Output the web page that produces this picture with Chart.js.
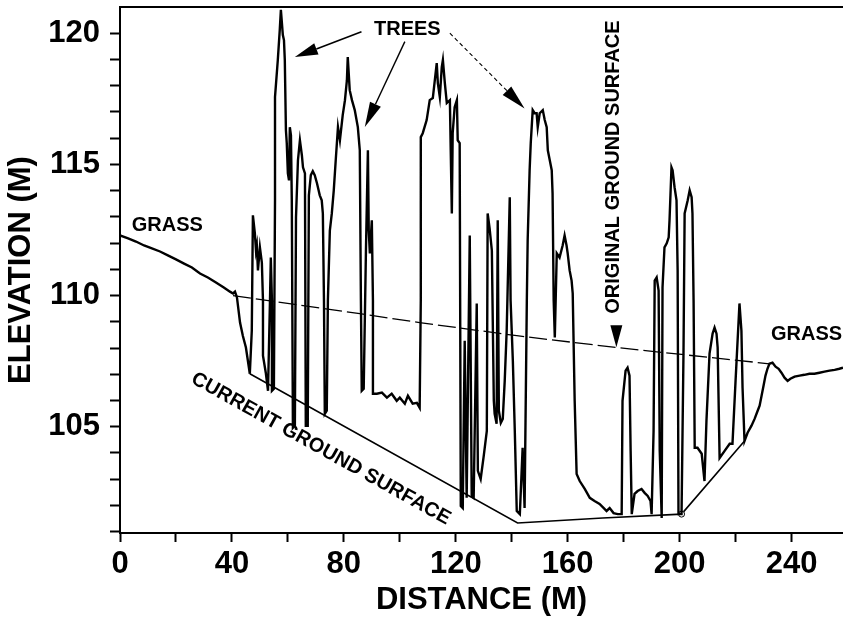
<!DOCTYPE html>
<html>
<head>
<meta charset="utf-8">
<script src="https://cdn.jsdelivr.net/npm/chart.js@4.4.1/dist/chart.umd.min.js"></script>
<style>
  html, body { margin: 0; padding: 0; background: #fff; }
</style>
</head>
<body>
<canvas id="profileChart" width="843" height="619"></canvas>
<script>
// Lidar profile, [distance (m), elevation (m)]
var grassWest = [
  [0, 112.29], [2.9, 112.18], [5.7, 112.06], [8.6, 111.91], [11.4, 111.80], [14.3, 111.68],
  [17.1, 111.53], [20.0, 111.38], [22.9, 111.22], [25.7, 111.07], [28.6, 110.84], [31.4, 110.69],
  [34.3, 110.50], [37.1, 110.31], [39.3, 110.15], [40.4, 110.08], [41.1, 110.15], [41.8, 109.93],
  [42.9, 108.97], [43.9, 108.47], [45.0, 108.02], [46.4, 107.02]
];
var treesWest = [
  [47.1, 108.66], [47.5, 113.06], [48.2, 112.37], [48.6, 111.72], [48.9, 111.91], [49.3, 110.96],
  [50.0, 111.84], [50.7, 111.26], [51.1, 109.81], [51.1, 107.71], [52.1, 107.06], [52.9, 106.37],
  [53.6, 109.81], [53.9, 111.45], [54.3, 109.81], [54.3, 106.37], [55.0, 106.45],
  [55.4, 113.63], [55.4, 117.57], [56.4, 118.98], [57.1, 120.13], [57.5, 120.89], [58.2, 119.93],
  [58.6, 119.74], [58.9, 118.98], [59.3, 116.30], [59.6, 115.81], [60.0, 114.66], [60.4, 114.39],
  [60.7, 116.42], [61.1, 116.11], [61.4, 113.63], [61.8, 104.96], [62.5, 105.04], [62.9, 112.98],
  [63.6, 115.16], [64.3, 115.92], [65.0, 115.35], [65.4, 114.89], [66.1, 114.66], [66.4, 105.04],
  [67.1, 105.04], [67.5, 113.82], [68.2, 114.59], [68.9, 114.74], [69.6, 114.59], [70.4, 114.28],
  [71.4, 113.82], [72.1, 113.63], [72.5, 113.13], [72.9, 109.81], [73.2, 105.49], [73.9, 105.61],
  [74.3, 109.81], [75.0, 112.48]
];
var treesMid = [
  [75.7, 113.13], [76.4, 114.01], [77.1, 115.16], [77.9, 116.42], [78.6, 115.92], [79.6, 116.88],
  [80.4, 117.45], [81.1, 118.21], [81.4, 119.09], [82.1, 117.83], [82.9, 117.45], [83.9, 117.07],
  [85.0, 116.42], [85.7, 115.54], [86.1, 109.81], [86.4, 106.37], [87.1, 106.45], [87.9, 111.72],
  [88.6, 115.54], [88.9, 112.48], [89.3, 111.61], [90.0, 112.87], [90.4, 109.81], [90.4, 106.26],
  [91.8, 106.26], [93.6, 106.30], [95.4, 106.11], [97.1, 106.26], [98.9, 105.99], [100.0, 106.11],
  [101.8, 105.88], [102.9, 106.18], [104.6, 105.88], [106.1, 105.91], [107.1, 105.72],
  [107.5, 109.81], [107.5, 116.04], [108.2, 116.19], [109.6, 116.69], [110.7, 117.45], [111.8, 117.53],
  [113.2, 118.86], [113.6, 118.10], [114.3, 117.57], [115.0, 118.71], [115.4, 118.98], [116.1, 118.10],
  [116.8, 117.34], [117.9, 117.45], [118.2, 115.54], [118.6, 113.13], [118.9, 116.19], [119.6, 117.18],
  [120.4, 117.45], [120.7, 115.92], [121.4, 115.81]
];
var treesEast = [
  [121.8, 101.98], [122.5, 101.90], [123.2, 108.28], [123.9, 102.29], [125.0, 112.29], [125.7, 102.36],
  [126.4, 102.29], [127.5, 109.70], [127.9, 103.32], [128.9, 103.01], [130.0, 103.89], [131.1, 104.84],
  [131.4, 113.13], [132.1, 112.56], [132.9, 111.72], [133.6, 105.99], [133.9, 105.49], [134.6, 105.11],
  [135.0, 112.87], [135.4, 105.61], [136.1, 105.15], [136.8, 105.30], [137.5, 106.75], [138.2, 108.66],
  [139.3, 113.75], [139.6, 109.81], [140.4, 107.52], [141.1, 104.84], [141.8, 101.79], [142.9, 101.67],
  [143.9, 104.20], [144.6, 101.90], [145.4, 109.81], [145.7, 112.10], [146.4, 114.78], [146.8, 115.81],
  [147.5, 117.07], [148.2, 116.95], [148.9, 116.95], [149.3, 116.42], [150.0, 116.95], [151.1, 117.07],
  [151.8, 116.69], [152.5, 116.42], [152.9, 115.54], [153.6, 115.16], [154.3, 114.78], [154.6, 113.90],
  [155.0, 109.81], [155.4, 108.40], [156.1, 111.61], [157.1, 111.45], [158.2, 111.91], [158.9, 112.29],
  [159.6, 111.91], [160.0, 111.61], [160.7, 110.96], [161.4, 110.57], [161.8, 110.08], [162.5, 105.99],
  [163.2, 103.20]
];
var clearingEast = [
  [164.3, 102.93], [166.1, 102.63], [167.9, 102.29], [169.6, 102.17], [171.4, 102.06], [172.9, 101.90],
  [173.9, 101.79], [175.0, 101.90], [176.4, 101.71], [177.9, 101.67], [179.3, 101.67],
  [179.6, 105.99], [180.7, 107.14], [181.4, 107.25], [182.1, 106.95], [182.5, 104.08], [182.9, 101.67],
  [183.9, 102.44], [185.0, 102.55], [186.4, 102.63], [187.5, 102.48], [188.6, 102.36], [189.6, 102.17],
  [190.0, 101.67], [190.7, 104.84], [191.1, 110.57], [191.8, 110.69], [192.5, 110.19], [192.9, 104.08],
  [193.6, 101.52], [193.9, 110.31], [194.6, 111.84], [195.4, 111.99], [196.1, 112.22], [196.4, 112.87],
  [197.1, 114.89], [197.5, 114.78], [198.2, 114.13], [198.9, 113.63], [199.3, 110.96], [199.6, 101.67],
  [200.7, 101.67], [201.4, 107.90], [201.8, 113.13], [202.9, 113.63], [203.6, 114.01], [204.3, 113.75],
  [204.6, 113.13], [205.0, 109.81], [205.4, 104.20], [206.4, 104.20], [207.9, 103.97], [208.9, 102.93],
  [209.6, 105.23], [210.7, 107.79], [211.8, 108.55], [212.5, 108.78], [213.2, 108.55], [213.6, 108.02],
  [214.3, 103.81], [216.1, 104.08], [217.9, 104.35], [218.9, 104.35], [220.0, 106.75], [221.4, 109.70],
  [222.1, 108.66], [222.5, 106.49], [223.2, 104.46]
];
var grassEast = [
  [224.3, 104.77], [225.7, 105.04], [226.8, 105.30], [227.9, 105.61], [228.6, 105.80], [229.3, 106.18],
  [230.0, 106.56], [230.7, 106.95], [231.4, 107.21], [232.1, 107.40], [233.2, 107.44], [234.3, 107.29],
  [235.4, 107.21], [236.4, 107.06], [237.5, 106.87], [238.6, 106.75], [239.6, 106.83], [241.1, 106.91],
  [242.9, 106.95], [244.6, 106.98], [246.4, 107.02], [248.2, 107.02], [250.0, 107.06], [251.8, 107.10],
  [253.6, 107.14], [255.4, 107.17], [257.1, 107.21], [258.4, 107.25]
];

// Interpreted surfaces
var currentGround = [[46.4, 107.02], [142.1, 101.33], [172.5, 101.52], [200.7, 101.67], [223.2, 104.46]];
var originalGround = [[40.4, 110.00], [85.7, 109.31], [107.1, 108.97], [141.8, 108.47], [177.5, 108.02], [232.1, 107.40]];

// Axis ticks
var xTicks = [0, 20, 40, 60, 80, 100, 120, 140, 160, 180, 200, 220, 240];
var xTickLabels = ['0', '', '40', '', '80', '', '120', '', '160', '', '200', '', '240'];
var yTicks = [101, 102, 103, 104, 105, 106, 107, 108, 109, 110, 111, 112, 113, 114, 115, 116, 117, 118, 119, 120];
var yTickLabels = ['', '', '', '', '105', '', '', '', '', '110', '', '', '', '', '115', '', '', '', '', '120'];

var profile = [].concat(grassWest, treesWest, treesMid, treesEast, clearingEast, grassEast);

function toPoints(list) {
  return list.map(function (p) { return { x: p[0], y: p[1] }; });
}

var FONT = '"Liberation Sans", Arial, Helvetica, sans-serif';
Chart.defaults.font.family = FONT;
Chart.defaults.color = '#000';

// text labels and arrows of the figure, placed in data units
var annotate = {
  id: 'annotate',
  afterDraw: function (chart) {
    var ctx = chart.ctx, xs = chart.scales.x, ys = chart.scales.y, area = chart.chartArea;
    function px(p) { return { x: xs.getPixelForValue(p[0]), y: ys.getPixelForValue(p[1]) }; }
    function head(tip, ang, len, half) {
      var bx = tip.x - len * Math.cos(ang), by = tip.y - len * Math.sin(ang);
      ctx.beginPath();
      ctx.moveTo(tip.x, tip.y);
      ctx.lineTo(bx + half * Math.sin(ang), by - half * Math.cos(ang));
      ctx.lineTo(bx - half * Math.sin(ang), by + half * Math.cos(ang));
      ctx.closePath();
      ctx.fill();
      return { x: bx, y: by };
    }
    function arrow(from, to, len, half, width, dash) {
      var a = px(from), b = px(to);
      var ang = Math.atan2(b.y - a.y, b.x - a.x);
      var base = head(b, ang, len, half);
      ctx.lineWidth = width;
      ctx.setLineDash(dash || []);
      ctx.beginPath();
      ctx.moveTo(a.x, a.y);
      ctx.lineTo(base.x, base.y);
      ctx.stroke();
      ctx.setLineDash([]);
    }
    function label(text, at, angle) {
      var p = px(at);
      ctx.save();
      ctx.translate(p.x, p.y);
      ctx.rotate(angle || 0);
      ctx.fillText(text, 0, 0);
      ctx.restore();
    }

    ctx.save();
    ctx.strokeStyle = '#000';
    ctx.fillStyle = '#000';

    // top frame line
    ctx.lineWidth = 2;
    ctx.beginPath();
    ctx.moveTo(area.left, area.top);
    ctx.lineTo(area.right, area.top);
    ctx.stroke();

    ctx.font = 'bold 20px ' + FONT;
    ctx.textAlign = 'center';
    ctx.textBaseline = 'middle';
    label('GRASS', [16.9, 112.67]);
    label('GRASS', [245.4, 108.51]);
    label('TREES', [102.7, 120.16]);
    label('ORIGINAL GROUND SURFACE', [176.4, 114.9], -Math.PI / 2);

    var g0 = px(currentGround[0]), g1 = px(currentGround[1]);
    label('CURRENT GROUND SURFACE', [71.8, 104.16], Math.atan2(g1.y - g0.y, g1.x - g0.x));

    // arrowhead pointing at the original ground line
    head(px([177.4, 108.03]), Math.PI / 2, 22, 6);

    arrow([86.3, 120.06], [62.5, 119.09], 23, 6, 1.6);
    arrow([101.8, 119.68], [87.5, 116.43], 25, 6, 1.4);
    arrow([117.9, 120.0], [144.6, 117.13], 25, 6, 1.1, [4, 3]);
    ctx.restore();
  }
};

new Chart(document.getElementById('profileChart').getContext('2d'), {
  type: 'line',
  data: {
    datasets: [
      {
        label: 'Profile',
        data: toPoints(profile),
        borderColor: '#000',
        borderWidth: 2.4,
        pointRadius: 0,
        tension: 0,
        fill: false
      },
      {
        label: 'Current ground surface',
        data: toPoints(currentGround),
        borderColor: '#000',
        borderWidth: 1.6,
        pointRadius: function (c) { return c.dataIndex === 3 ? 3 : 0; },
        pointBackgroundColor: '#fff',
        pointBorderColor: '#000',
        pointBorderWidth: 1,
        tension: 0,
        fill: false
      },
      {
        label: 'Original ground surface',
        data: toPoints(originalGround),
        borderColor: '#000',
        borderWidth: 1.3,
        borderDash: [18, 5],
        pointRadius: 0,
        tension: 0,
        fill: false
      }
    ]
  },
  options: {
    responsive: false,
    animation: false,
    events: [],
    layout: { padding: { top: 7, right: 0, bottom: 0, left: 0 } },
    plugins: {
      legend: { display: false },
      tooltip: { enabled: false }
    },
    scales: {
      x: {
        type: 'linear',
        min: 0,
        max: 258.4,
        afterBuildTicks: function (s) { s.ticks = xTicks.map(function (v) { return { value: v }; }); },
        afterFit: function (s) { s.height = 86; s.paddingLeft = 0; s.paddingRight = 0; },
        ticks: {
          autoSkip: false,
          minRotation: 0,
          maxRotation: 0,
          padding: 4,
          color: '#000',
          font: { size: 31, weight: 'bold' },
          callback: function (v, i) { return xTickLabels[i]; }
        },
        grid: { drawOnChartArea: false, drawTicks: true, tickLength: 9, tickWidth: 2, tickColor: '#000' },
        border: { display: true, color: '#000', width: 2 },
        title: {
          display: true,
          text: 'DISTANCE (M)',
          color: '#000',
          font: { size: 31, weight: 'bold' },
          padding: { top: 0, bottom: 0 }
        }
      },
      y: {
        type: 'linear',
        min: 100.95,
        max: 121,
        afterBuildTicks: function (s) { s.ticks = yTicks.map(function (v) { return { value: v }; }); },
        afterFit: function (s) { s.width = 120; s.paddingTop = 0; s.paddingBottom = 0; },
        ticks: {
          autoSkip: false,
          padding: 10,
          color: '#000',
          font: { size: 31, weight: 'bold' },
          callback: function (v, i) { return yTickLabels[i]; }
        },
        grid: { drawOnChartArea: false, drawTicks: true, tickLength: 10, tickWidth: 2, tickColor: '#000' },
        border: { display: true, color: '#000', width: 2 },
        title: {
          display: true,
          text: 'ELEVATION (M)',
          color: '#000',
          font: { size: 31, weight: 'bold' },
          padding: { top: 3, bottom: 0 }
        }
      }
    }
  },
  plugins: [annotate]
});
</script>
</body>
</html>
